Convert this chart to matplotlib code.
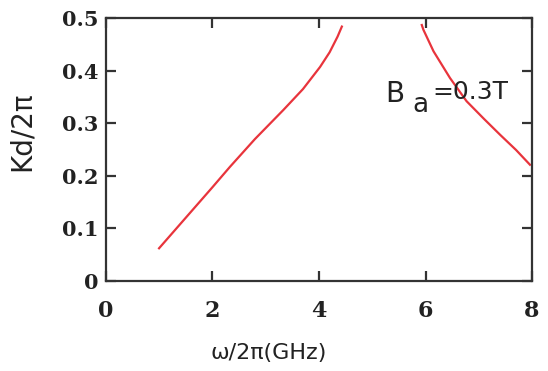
import numpy as np
import matplotlib.pyplot as plt

# lower branch
f1 = [1.0, 1.5, 2.0, 2.33, 2.8, 3.33, 3.7, 4.02, 4.2, 4.35, 4.43]
k1 = [0.062, 0.12, 0.178, 0.217, 0.27, 0.325, 0.365, 0.407, 0.435, 0.465, 0.484]

# upper branch
f2 = [5.93, 5.96, 6.15, 6.46, 6.77, 7.1, 7.4, 7.7, 7.96]
k2 = [0.487, 0.478, 0.437, 0.386, 0.342, 0.308, 0.278, 0.249, 0.221]

xticks = [0, 2, 4, 6, 8]
yticks = [0, 0.1, 0.2, 0.3, 0.4, 0.5]
ylabels = ["0", "0.1", "0.2", "0.3", "0.4", "0.5"]

fig = plt.figure(figsize=(5.48, 3.71), dpi=100)
ax = fig.add_axes([0.193, 0.243, 0.778, 0.708])

red = "#e8343c"
ax.plot(f1, k1, color=red, lw=1.6)
ax.plot(f2, k2, color=red, lw=1.6)

ax.set_xlim(0, 8)
ax.set_ylim(0, 0.5)
ax.set_xticks(xticks)
ax.set_yticks(yticks)
ax.set_xticklabels([str(t) for t in xticks], fontfamily="DejaVu Serif",
                   fontweight="bold", fontsize=16)
ax.set_yticklabels(ylabels, fontfamily="DejaVu Serif",
                   fontweight="bold", fontsize=15)
ax.tick_params(direction="in", length=7, width=1.6, color="#333333",
               top=True, right=True, labelcolor="#222222")
ax.tick_params(axis="x", pad=14)
ax.tick_params(axis="y", pad=5)
for s in ax.spines.values():
    s.set_linewidth(1.6)
    s.set_color("#333333")

ax.set_xlabel("ω/2π(GHz)", fontfamily="DejaVu Sans", fontsize=16,
              color="#222222")
ax.set_ylabel("Kd/2π", fontfamily="DejaVu Sans", fontsize=20,
              color="#222222")
ax.xaxis.set_label_coords(0.383, -0.235)
ax.yaxis.set_label_coords(-0.165, 0.568)

ax.text(5.24, 0.340, "B", fontfamily="DejaVu Sans", fontsize=20, color="#222222")
ax.text(5.75, 0.321, "a", fontfamily="DejaVu Sans", fontsize=19, color="#222222")
ax.text(6.12, 0.347, "=0.3T", fontfamily="DejaVu Sans", fontsize=18, color="#222222")

fig.savefig("out.png", dpi=100)
